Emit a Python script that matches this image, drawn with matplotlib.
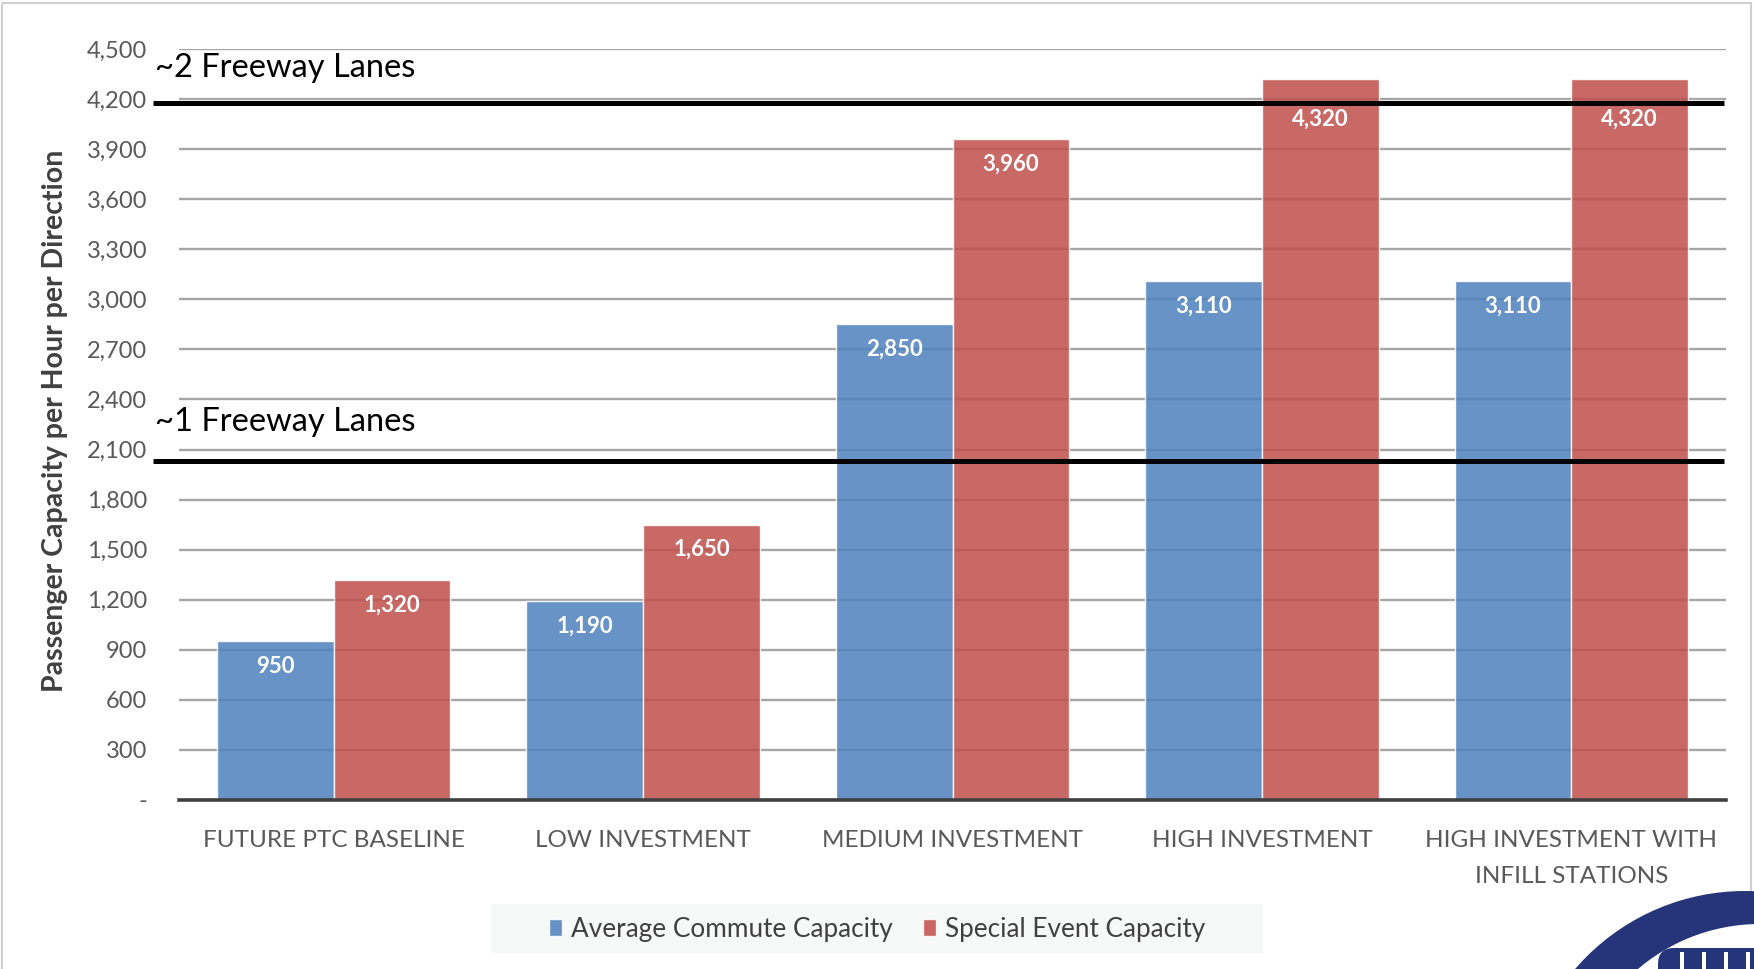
import numpy as np
import matplotlib
matplotlib.use("Agg")
import matplotlib.pyplot as plt
from matplotlib.patches import Circle, Rectangle, FancyBboxPatch
from matplotlib.ticker import FuncFormatter

plt.rcParams['font.family'] = ['Lato', 'DejaVu Sans']

# data
categories = ['FUTURE PTC BASELINE', 'LOW INVESTMENT', 'MEDIUM INVESTMENT',
              'HIGH INVESTMENT', 'HIGH INVESTMENT WITH\nINFILL STATIONS']
commute = [950, 1190, 2850, 3110, 3110]
special = [1320, 1650, 3960, 4320, 4320]
series_names = ['Average Commute Capacity', 'Special Event Capacity']
lane_levels = [2030, 4175]
lane_labels = ['~1 Freeway Lanes', '~2 Freeway Lanes']
lane_label_y = [2265, 4385]
yticks = list(range(0, 4501, 300))

W, H = 1754, 969
fig = plt.figure(figsize=(W / 100, H / 100), dpi=100)
ax = fig.add_axes([179 / W, 1 - 800 / H, (1726 - 179) / W, (800 - 49) / H])

blue = '#4F81BD'
red = '#C0504D'
grey_txt = '#595959'

x = np.arange(len(categories))
w = 0.377
b1 = ax.bar(x - w / 2, commute, w, color=blue, alpha=0.86, edgecolor='white', linewidth=1.0, zorder=3)
b2 = ax.bar(x + w / 2, special, w, color=red, alpha=0.86, edgecolor='white', linewidth=1.0, zorder=3)

for bars, vals in ((b1, commute), (b2, special)):
    for r, v in zip(bars, vals):
        # push the label down if it would sit on a lane line
        off = -29 if any(0 < v - lvl < 300 for lvl in lane_levels) else -18
        ax.annotate(f'{v:,}', (r.get_x() + r.get_width() / 2, v), xytext=(0, off),
                    textcoords='offset points', ha='center', va='center',
                    color='white', fontsize=16, fontweight='bold', zorder=5)

ax.set_xlim(-0.5, len(categories) - 0.5)
ax.set_ylim(0, 4500)
ax.set_yticks(yticks)
ax.yaxis.set_major_formatter(FuncFormatter(lambda v, p: '-' if v == 0 else f'{int(v):,}'))
ax.grid(axis='y', color='#a6a6a6', linewidth=1.7, zorder=1)
ax.set_axisbelow(True)
for s in ['top', 'right', 'left']:
    ax.spines[s].set_visible(False)
ax.spines['bottom'].set_color('#404040')
ax.spines['bottom'].set_linewidth(2.6)
ax.spines['bottom'].set_zorder(4)

ax.set_xticks(x)
ax.set_xticklabels(categories, fontsize=17.5, color=grey_txt, linespacing=1.88)
ax.tick_params(axis='x', length=0, pad=21.5)
ax.tick_params(axis='y', length=0, pad=23, labelsize=17, labelcolor=grey_txt)

ax.set_ylabel('Passenger Capacity per Hour per Direction', fontsize=20.5,
              fontweight='bold', color='#404040')
ax.yaxis.set_label_coords(-0.072, 0.505)

# freeway lane reference lines
for lvl, lab, ly in zip(lane_levels, lane_labels, lane_label_y):
    ax.axhline(lvl, xmin=-0.0168, xmax=0.999, color='black', linewidth=3.6,
               solid_capstyle='butt', clip_on=False, zorder=6)
    ax.text(-0.0158, ly, lab, transform=ax.get_yaxis_transform(),
            fontsize=23.5, color='black', va='center', ha='left', zorder=6)

# overlay for legend box, border and corner logo
ov = fig.add_axes([0, 0, 1, 1], zorder=-1)
ov.set_xlim(0, W)
ov.set_ylim(H, 0)
ov.axis('off')
ov.add_patch(Rectangle((2, 3), W - 5, H + 20, facecolor='none', edgecolor='#d0d0d0', linewidth=1.5))
ov.add_patch(Rectangle((491, 904), 772, 49, facecolor='#f7f8f8', edgecolor='none'))

logo = fig.add_axes([0, 0, 1, 1], zorder=10)
logo.set_xlim(0, W)
logo.set_ylim(H, 0)
logo.axis('off')
logo.patch.set_alpha(0)
logo.add_patch(Circle((1745, 1115), 224, facecolor='#263479', edgecolor='none'))
logo.add_patch(Circle((1760, 1112), 188, facecolor='white', edgecolor='none'))
logo.add_patch(FancyBboxPatch((1658, 948), 130, 45, boxstyle='round,pad=0,rounding_size=16',
                              facecolor='#263479', edgecolor='none'))
for sx in [1680, 1702, 1724, 1746]:
    logo.add_patch(Rectangle((sx, 952), 4, 22, facecolor='white', edgecolor='none'))

fig.legend([b1, b2], series_names, loc='center', bbox_to_anchor=(877 / W, 1 - 929 / H),
           ncol=2, frameon=False, fontsize=18.8, labelcolor='#404040',
           handlelength=0.5, handleheight=0.6, handletextpad=0.35, columnspacing=1.15)

fig.savefig('out.png', dpi=100)
